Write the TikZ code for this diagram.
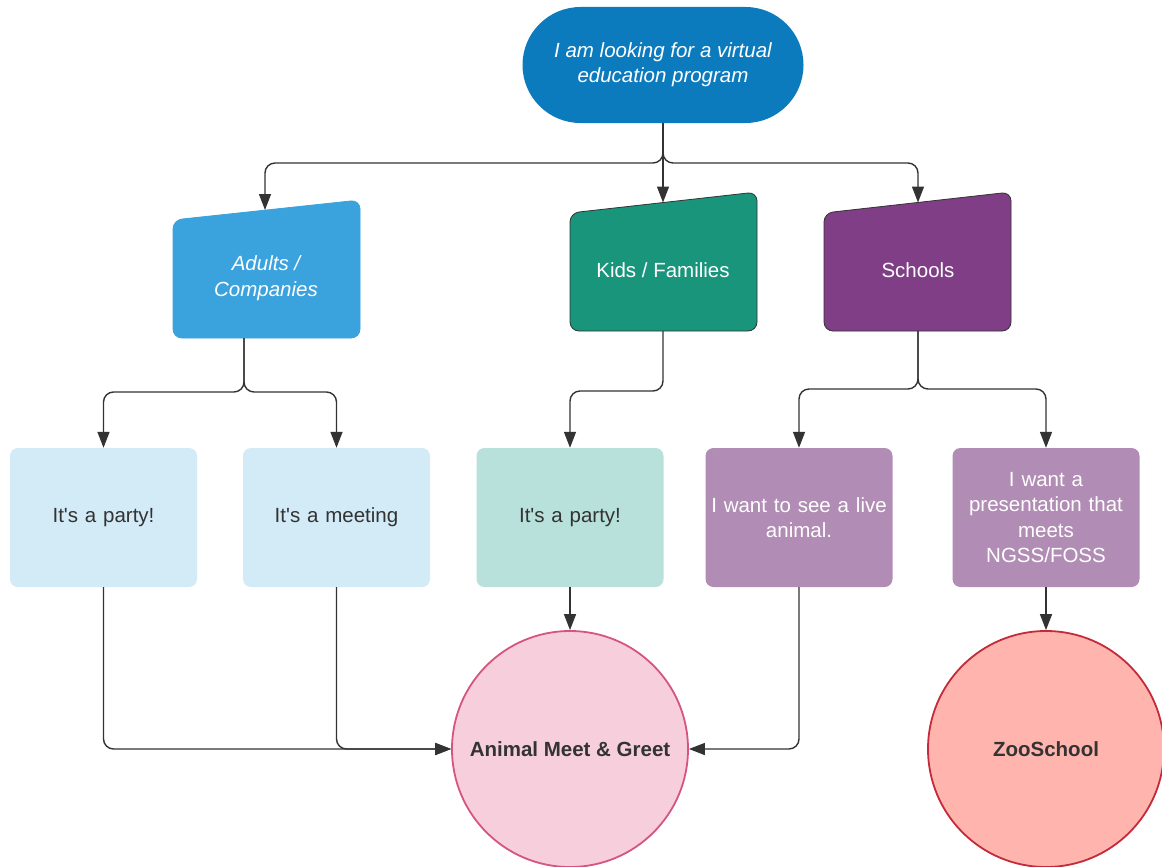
\documentclass[tikz,border=0pt]{standalone}
\usepackage{fontspec}
\setmainfont{Liberation Sans}
\usetikzlibrary{arrows.meta}
\definecolor{topblue}{HTML}{0C7BBE}
\definecolor{adultblue}{HTML}{3AA2DC}
\definecolor{kidgreen}{HTML}{19957B}
\definecolor{schoolpurple}{HTML}{7F3E85}
\definecolor{lightblue}{HTML}{D3EAF7}
\definecolor{lightteal}{HTML}{B8E1DB}
\definecolor{lightpurple}{HTML}{B18CB4}
\definecolor{pinkfill}{HTML}{F7CFDC}
\definecolor{pinkline}{HTML}{D6557C}
\definecolor{zoofill}{HTML}{FFB5AE}
\definecolor{zooline}{HTML}{C52A3A}
\definecolor{darktext}{HTML}{333333}
\definecolor{linecol}{HTML}{333333}
\tikzset{
  txt/.style={font=\fontsize{20.5}{25.5}\selectfont, align=center},
  whitetxt/.style={txt, text=white},
  darktxt/.style={txt, text=darktext},
  optbox/.style={rectangle, rounded corners=8pt, minimum width=187pt, minimum height=139pt, inner sep=2pt, text width=180pt},
  trap/.style={rounded corners=9pt, line width=0.8pt},
  conn/.style={draw=linecol, line width=1.4pt, rounded corners=10pt, -{Triangle[length=16pt,width=12pt]}},
  goal/.style={circle, minimum size=236pt, line width=1.8pt, inner sep=0pt, font=\fontsize{20.5}{25.5}\selectfont\bfseries, text=darktext}
}
\begin{document}
\begin{tikzpicture}[x=1pt,y=-1pt]
\fill[white] (0,0) rectangle (1162,867);
\useasboundingbox (0,0) rectangle (1162,867);

% top node
\node[rectangle, rounded corners=58pt, fill=topblue, minimum width=281pt, minimum height=116pt, whitetxt, font=\fontsize{20.5}{25.5}\selectfont\itshape] (top) at (663,65) {\raisebox{3pt}{\begin{tabular}{@{}c@{}}I am looking for a virtual\\education program\end{tabular}}};

% trapezoids
\filldraw[trap, fill=adultblue, draw=adultblue] (173,220) -- (360,200) -- (360,338) -- (173,338) -- cycle;
\node[whitetxt, font=\fontsize{20.5}{25.5}\selectfont\itshape] (adults) at (266,278) {Adults /\\Companies};
\coordinate (adultsTop) at (265,210);
\coordinate (adultsBot) at (244,338);

\filldraw[trap, fill=kidgreen, draw=linecol] (570,213) -- (757,192) -- (757,331) -- (570,331) -- cycle;
\node[whitetxt] (kids) at (663,270) {Kids / Families};
\coordinate (kidsTop) at (663,202.5);
\coordinate (kidsBot) at (663,331);

\filldraw[trap, fill=schoolpurple, draw=linecol] (824,213) -- (1011,192) -- (1011,331) -- (824,331) -- cycle;
\node[whitetxt] (schools) at (918,270) {Schools};
\coordinate (schoolsTop) at (918,202.5);
\coordinate (schoolsBot) at (918,331);

% option boxes
\node[optbox, fill=lightblue, darktxt] (b1) at (103.5,517.5) {It\textquotesingle s a party!};
\node[optbox, fill=lightblue, darktxt] (b2) at (336.5,517.5) {It\textquotesingle s a meeting};
\node[optbox, fill=lightteal, darktxt] (b3) at (570,517.5) {It\textquotesingle s a party!};
\node[optbox, fill=lightpurple, whitetxt] (b4) at (799,517.5) {I want to see a live\\animal.};
\node[optbox, fill=lightpurple, whitetxt] (b5) at (1046,517.5) {I want a\\presentation that\\meets\\NGSS/FOSS};

% goals
\node[goal, fill=pinkfill, draw=pinkline] (amg) at (570,749) {Animal Meet \& Greet};
\node[goal, fill=zoofill, draw=zooline] (zoo) at (1046,749) {ZooSchool};

% connectors from top
\draw[conn] (top.south) -- (663,163) -| (adultsTop);
\draw[conn] (top.south) -- (kidsTop);
\draw[conn] (top.south) -- (663,163) -| (schoolsTop);

% adults split
\draw[conn] (adultsBot) -- (244,392) -| (b1.north);
\draw[conn] (adultsBot) -- (244,392) -| (b2.north);

% kids
\draw[conn] (kidsBot) -- (663,391) -| (b3.north);

% schools split
\draw[conn] (schoolsBot) -- (918,389) -| (b4.north);
\draw[conn] (schoolsBot) -- (918,389) -| (b5.north);

% to goals
\draw[conn] (b1.south) |- (amg.west);
\draw[conn] (b2.south) |- (amg.west);
\draw[conn] (b3.south) -- (amg.north);
\draw[conn] (b4.south) |- (amg.east);
\draw[conn] (b5.south) -- (zoo.north);
\end{tikzpicture}
\end{document}
